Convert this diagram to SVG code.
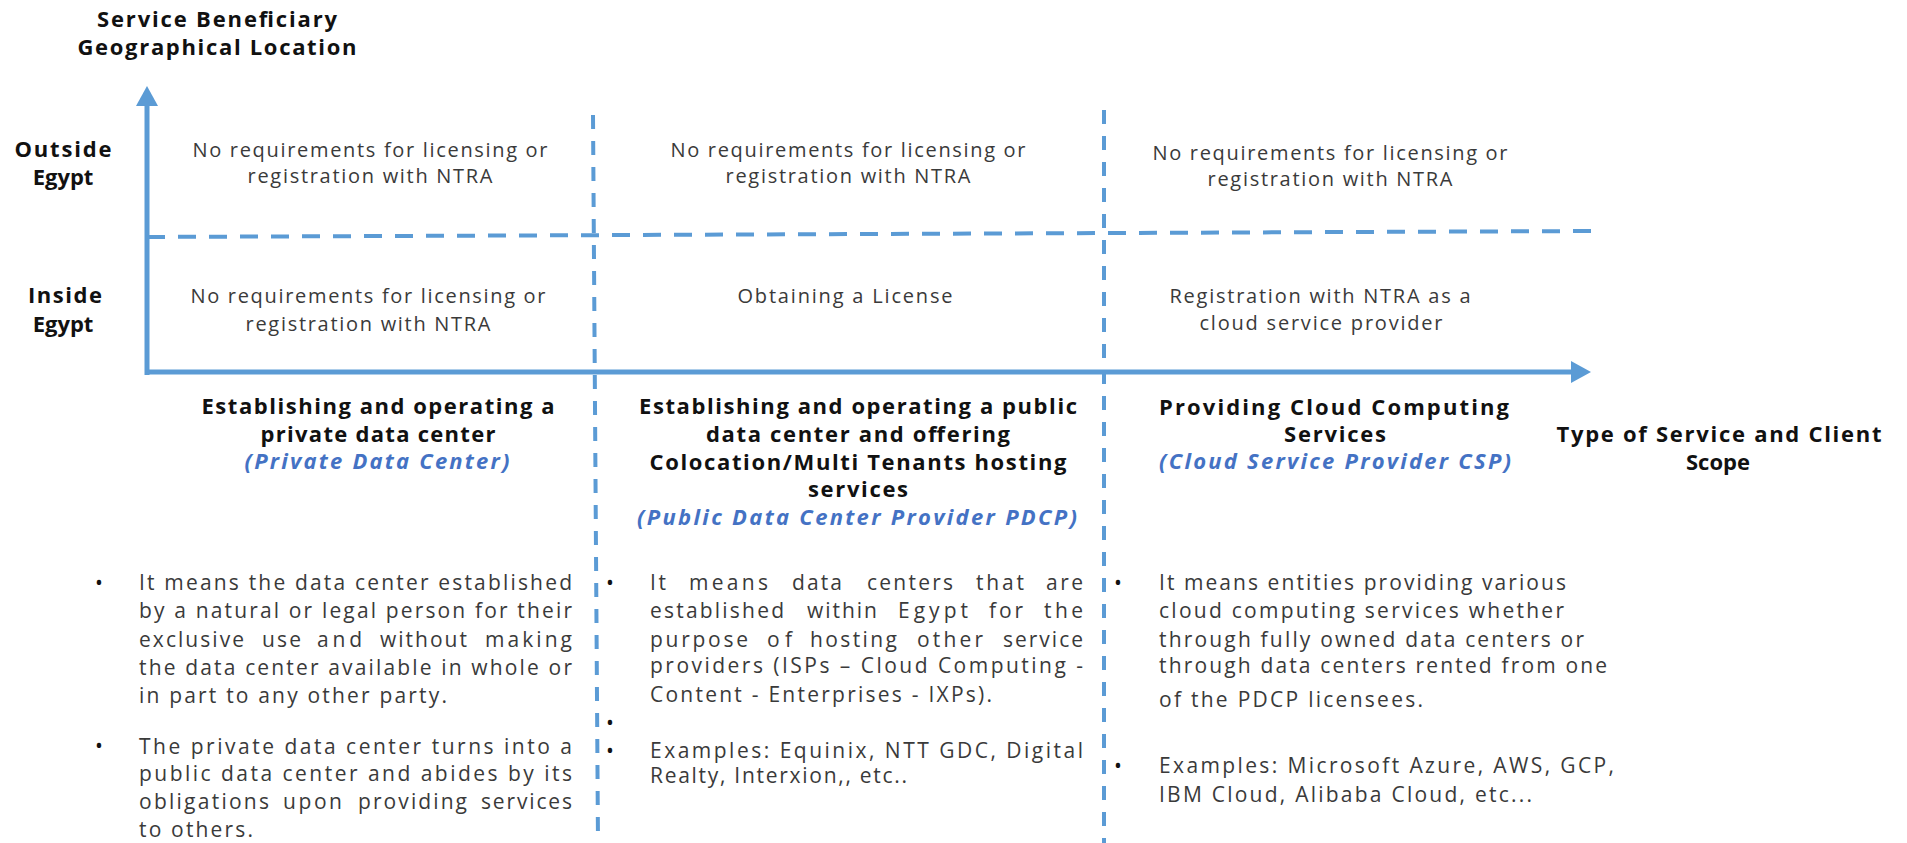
<svg xmlns="http://www.w3.org/2000/svg" width="1907" height="843" viewBox="0 0 1907 843">
<style>
  text { font-family: "Open Sans", "Liberation Sans", sans-serif; }
  .ax { stroke: #5B9BD5; stroke-width: 5; fill: none; }
  .dh { stroke: #5B9BD5; stroke-width: 4; stroke-dasharray: 18 13; fill: none; }
  .dv { stroke: #5B9BD5; stroke-width: 4; stroke-dasharray: 14 12; fill: none; }
  .lbl { font-size: 22px; font-weight: 700; fill: #111; text-anchor: middle; }
  .cell { font-size: 20px; fill: #3a3a3a; text-anchor: middle; }
  .hd { font-size: 22px; font-weight: 700; fill: #111; text-anchor: middle; }
  .it { font-size: 22px; font-weight: 700; font-style: italic; fill: #4472C4; text-anchor: middle; }
  .body { font-size: 21px; fill: #3a3a3a; }
  .bul { font-size: 21px; fill: #111; text-anchor: middle; }
</style>
<defs>
  <marker id="arr" markerUnits="userSpaceOnUse" markerWidth="22" markerHeight="24" refX="2" refY="12" orient="auto">
    <path d="M0,1 L20,12 L0,23 Z" fill="#5B9BD5"/>
  </marker>
</defs>

<g id="connectors">
  <line class="ax" x1="147" y1="375" x2="147" y2="104" marker-end="url(#arr)"/>
  <line class="ax" x1="145" y1="372" x2="1573" y2="372" marker-end="url(#arr)"/>
  <line class="dh" x1="147" y1="237" x2="1595" y2="231"/>
  <line class="dv" x1="593" y1="115" x2="598" y2="843"/>
  <line class="dv" x1="1104" y1="110" x2="1104" y2="843"/>
</g>

<g id="axis-y-title">
  <text class="lbl" x="217" y="27" textLength="240" lengthAdjust="spacing">Service Beneficiary</text>
  <text class="lbl" x="217" y="55" textLength="279" lengthAdjust="spacing">Geographical Location</text>
</g>
<g id="axis-x-title">
  <text class="lbl" x="1719" y="442" textLength="325" lengthAdjust="spacing">Type of Service and Client</text>
  <text class="lbl" x="1718" y="470">Scope</text>
</g>
<g id="row-outside">
  <text class="lbl" x="63" y="157" textLength="97" lengthAdjust="spacing">Outside</text>
  <text class="lbl" x="63" y="185">Egypt</text>
</g>
<g id="row-inside">
  <text class="lbl" x="65" y="303" textLength="74" lengthAdjust="spacing">Inside</text>
  <text class="lbl" x="63" y="332">Egypt</text>
</g>

<g id="cell-private-outside">
  <text class="cell" x="370" y="157" textLength="355" lengthAdjust="spacing">No requirements for licensing or</text>
  <text class="cell" x="370" y="183" textLength="245" lengthAdjust="spacing">registration with NTRA</text>
</g>
<g id="cell-public-outside">
  <text class="cell" x="848" y="157" textLength="355" lengthAdjust="spacing">No requirements for licensing or</text>
  <text class="cell" x="848" y="183" textLength="245" lengthAdjust="spacing">registration with NTRA</text>
</g>
<g id="cell-csp-outside">
  <text class="cell" x="1330" y="160" textLength="355" lengthAdjust="spacing">No requirements for licensing or</text>
  <text class="cell" x="1330" y="186" textLength="245" lengthAdjust="spacing">registration with NTRA</text>
</g>
<g id="cell-private-inside">
  <text class="cell" x="368" y="303" textLength="355" lengthAdjust="spacing">No requirements for licensing or</text>
  <text class="cell" x="368" y="331" textLength="245" lengthAdjust="spacing">registration with NTRA</text>
</g>
<g id="cell-public-inside">
  <text class="cell" x="845" y="303" textLength="215" lengthAdjust="spacing">Obtaining a License</text>
</g>
<g id="cell-csp-inside">
  <text class="cell" x="1320" y="303" textLength="301" lengthAdjust="spacing">Registration with NTRA as a</text>
  <text class="cell" x="1321" y="330" textLength="243" lengthAdjust="spacing">cloud service provider</text>
</g>

<g id="heading-private">
  <text class="hd" x="378" y="414" textLength="353" lengthAdjust="spacing">Establishing and operating a</text>
  <text class="hd" x="378" y="442" textLength="235" lengthAdjust="spacing">private data center</text>
  <text class="it" x="377" y="469" textLength="265" lengthAdjust="spacing">(Private Data Center)</text>
</g>
<g id="heading-public">
  <text class="hd" x="858" y="414" textLength="438" lengthAdjust="spacing">Establishing and operating a public</text>
  <text class="hd" x="858" y="442" textLength="304" lengthAdjust="spacing">data center and offering</text>
  <text class="hd" x="858" y="470" textLength="417" lengthAdjust="spacing">Colocation/Multi Tenants hosting</text>
  <text class="hd" x="858" y="497" textLength="100" lengthAdjust="spacing">services</text>
  <text class="it" x="857" y="525" textLength="440" lengthAdjust="spacing">(Public Data Center Provider PDCP)</text>
</g>
<g id="heading-csp">
  <text class="hd" x="1334" y="415" textLength="350" lengthAdjust="spacing">Providing Cloud Computing</text>
  <text class="hd" x="1335" y="442" textLength="102" lengthAdjust="spacing">Services</text>
  <text class="it" x="1335" y="469" textLength="352" lengthAdjust="spacing">(Cloud Service Provider CSP)</text>
</g>

<g id="desc-private">
  <text class="bul" x="99" y="590">•</text>
  <text class="body" x="139" y="590" textLength="433" lengthAdjust="spacing">It means the data center established</text>
  <text class="body" x="139" y="618" textLength="433" lengthAdjust="spacing">by a natural or legal person for their</text>
  <text class="body" y="647"><tspan x="139" textLength="105" lengthAdjust="spacing">exclusive</tspan><tspan x="262" textLength="39" lengthAdjust="spacing">use</tspan><tspan x="317" textLength="45" lengthAdjust="spacing">and</tspan><tspan x="380" textLength="87" lengthAdjust="spacing">without</tspan><tspan x="485" textLength="87" lengthAdjust="spacing">making</tspan></text>
  <text class="body" x="139" y="675" textLength="433" lengthAdjust="spacing">the data center available in whole or</text>
  <text class="body" x="139" y="703" textLength="308" lengthAdjust="spacing">in part to any other party.</text>
  <text class="bul" x="99" y="753">•</text>
  <text class="body" x="139" y="754" textLength="433" lengthAdjust="spacing">The private data center turns into a</text>
  <text class="body" x="139" y="781" textLength="433" lengthAdjust="spacing">public data center and abides by its</text>
  <text class="body" y="809"><tspan x="139" textLength="130" lengthAdjust="spacing">obligations</tspan><tspan x="283" textLength="59" lengthAdjust="spacing">upon</tspan><tspan x="358" textLength="109" lengthAdjust="spacing">providing</tspan><tspan x="481" textLength="91" lengthAdjust="spacing">services</tspan></text>
  <text class="body" x="139" y="837" textLength="114" lengthAdjust="spacing">to others.</text>
</g>

<g id="desc-public">
  <text class="bul" x="610" y="590">•</text>
  <text class="body" y="590"><tspan x="650" textLength="16" lengthAdjust="spacing">It</tspan><tspan x="689" textLength="79" lengthAdjust="spacing">means</tspan><tspan x="792" textLength="50" lengthAdjust="spacing">data</tspan><tspan x="867" textLength="86" lengthAdjust="spacing">centers</tspan><tspan x="976" textLength="48" lengthAdjust="spacing">that</tspan><tspan x="1046" textLength="37" lengthAdjust="spacing">are</tspan></text>
  <text class="body" y="618"><tspan x="650" textLength="134" lengthAdjust="spacing">established</tspan><tspan x="807" textLength="70" lengthAdjust="spacing">within</tspan><tspan x="898" textLength="70" lengthAdjust="spacing">Egypt</tspan><tspan x="989" textLength="34" lengthAdjust="spacing">for</tspan><tspan x="1044" textLength="39" lengthAdjust="spacing">the</tspan></text>
  <text class="body" y="647"><tspan x="650" textLength="98" lengthAdjust="spacing">purpose</tspan><tspan x="767" textLength="25" lengthAdjust="spacing">of</tspan><tspan x="810" textLength="87" lengthAdjust="spacing">hosting</tspan><tspan x="917" textLength="66" lengthAdjust="spacing">other</tspan><tspan x="1003" textLength="80" lengthAdjust="spacing">service</tspan></text>
  <text class="body" x="650" y="673" textLength="433" lengthAdjust="spacing">providers (ISPs – Cloud Computing -</text>
  <text class="body" x="650" y="702" textLength="342" lengthAdjust="spacing">Content - Enterprises - IXPs).</text>
  <text class="bul" x="610" y="730">•</text>
  <text class="bul" x="610" y="758">•</text>
  <text class="body" x="650" y="758" textLength="433" lengthAdjust="spacing">Examples: Equinix, NTT GDC, Digital</text>
  <text class="body" x="650" y="783" textLength="257" lengthAdjust="spacing">Realty, Interxion,, etc..</text>
</g>

<g id="desc-csp">
  <text class="bul" x="1118" y="590">•</text>
  <text class="body" x="1159" y="590" textLength="407" lengthAdjust="spacing">It means entities providing various</text>
  <text class="body" x="1159" y="618" textLength="405" lengthAdjust="spacing">cloud computing services whether</text>
  <text class="body" x="1159" y="647" textLength="425" lengthAdjust="spacing">through fully owned data centers or</text>
  <text class="body" x="1159" y="673" textLength="448" lengthAdjust="spacing">through data centers rented from one</text>
  <text class="body" x="1159" y="707" textLength="264" lengthAdjust="spacing">of the PDCP licensees.</text>
  <text class="bul" x="1118" y="773">•</text>
  <text class="body" x="1159" y="773" textLength="455" lengthAdjust="spacing">Examples:  Microsoft Azure, AWS, GCP,</text>
  <text class="body" x="1159" y="802" textLength="373" lengthAdjust="spacing">IBM Cloud, Alibaba Cloud, etc...</text>
</g>
</svg>
